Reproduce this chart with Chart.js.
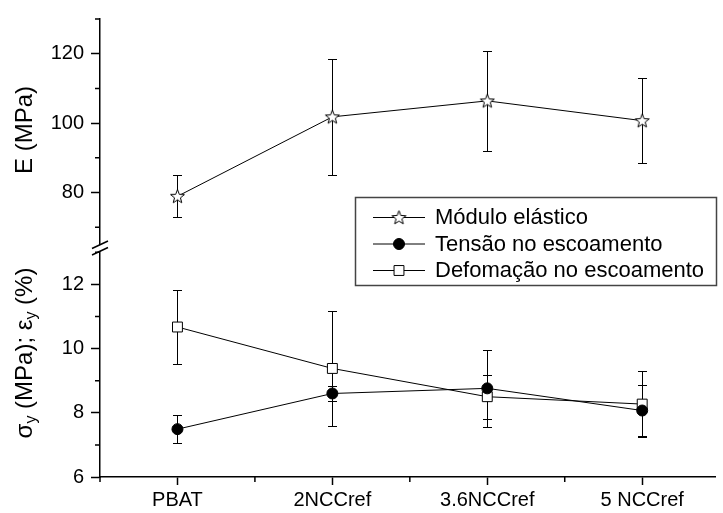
<!DOCTYPE html>
<html><head><meta charset="utf-8">
<script src="https://cdn.jsdelivr.net/npm/chart.js@4.4.0/dist/chart.umd.min.js"></script>
<style>html,body{margin:0;padding:0;background:#fff;overflow:hidden}
#wrap{position:relative;width:723px;height:513px}</style>
</head><body><div id="wrap"><canvas id="c" width="723" height="513"></canvas></div>
<script>
const categories = ['PBAT', '2NCCref', '3.6NCCref', '5 NCCref'];
const seriesNames = ['Módulo elástico', 'Tensão no escoamento', 'Defomação no escoamento'];
const moduloE = [78.9, 101.8, 106.4, 100.7];
const moduloErr = [6.1, 16.7, 14.3, 12.3];
const tensao = [7.49, 8.60, 8.76, 8.07];
const tensaoErr = [0.43, 0.24, 1.19, 0.78];
const deformacao = [10.67, 9.38, 8.50, 8.27];
const deformacaoErr = [1.16, 1.80, 0.69, 1.04];
const topMajorTicks = [80, 100, 120];
const topMinorTicks = [70, 90, 110, 130];
const botMajorTicks = [6, 8, 10, 12];
const botMinorTicks = [7, 9, 11, 13];

const FONT = 'Liberation Sans, Arial, Helvetica, sans-serif';

function makeStar() {
  const c = document.createElement('canvas'); c.width = 17; c.height = 17;
  const g = c.getContext('2d');
  g.beginPath();
  for (let i = 0; i < 10; i++) {
    const r = i % 2 ? 3.1 : 7.3;
    const a = -Math.PI / 2 + i * Math.PI / 5;
    const x = 8.5 + r * Math.cos(a), y = 9 + r * Math.sin(a);
    if (i) g.lineTo(x, y); else g.moveTo(x, y);
  }
  g.closePath(); g.fillStyle = '#fff'; g.fill();
  g.strokeStyle = '#000'; g.lineWidth = 1; g.stroke();
  return c;
}
const starImg = makeStar();
const toPts = arr => arr.map((v, i) => ({x: i, y: v}));

const errorBars = {
  id: 'errorBars',
  beforeDatasetsDraw(chart) {
    const ctx = chart.ctx; ctx.save();
    ctx.strokeStyle = '#000'; ctx.lineWidth = 1;
    chart.data.datasets.forEach((ds) => {
      const ys = chart.scales[ds.yAxisID], xs = chart.scales.x;
      ds.data.forEach((p, i) => {
        const x = Math.round(xs.getPixelForValue(p.x)) + 0.5;
        const y1 = Math.round(ys.getPixelForValue(p.y + ds.err[i])) + 0.5;
        const y2 = Math.round(ys.getPixelForValue(p.y - ds.err[i])) + 0.5;
        ctx.beginPath();
        ctx.moveTo(x, y1); ctx.lineTo(x, y2);
        ctx.moveTo(x - 4.5, y1); ctx.lineTo(x + 4.5, y1);
        ctx.moveTo(x - 4.5, y2); ctx.lineTo(x + 4.5, y2);
        ctx.stroke();
      });
    });
    ctx.restore();
  }
};

const decorations = {
  id: 'decorations',
  afterDraw(chart) {
    const ctx = chart.ctx, ca = chart.chartArea;
    const yT = chart.scales.yTop, yB = chart.scales.yBot, xs = chart.scales.x;
    ctx.save();
    ctx.strokeStyle = '#000'; ctx.lineWidth = 1.5;
    // minor ticks
    ctx.beginPath();
    topMinorTicks.forEach(v => { const y = yT.getPixelForValue(v); ctx.moveTo(ca.left - 5, y); ctx.lineTo(ca.left, y); });
    botMinorTicks.forEach(v => { const y = yB.getPixelForValue(v); ctx.moveTo(ca.left - 5, y); ctx.lineTo(ca.left, y); });
    for (let v = -0.5; v <= xs.max; v += 1) { const x = xs.getPixelForValue(v); ctx.moveTo(x, ca.bottom); ctx.lineTo(x, ca.bottom + 5); }
    ctx.stroke();
    // axis break
    const yb = yT.bottom;
    ctx.fillStyle = '#fff';
    ctx.fillRect(ca.left - 3, yb - 3, 6, 6);
    ctx.beginPath();
    ctx.moveTo(ca.left - 8, yb + 0.5); ctx.lineTo(ca.left + 8, yb - 7);
    ctx.moveTo(ca.left - 8, yb + 7); ctx.lineTo(ca.left + 8, yb - 0.5);
    ctx.stroke();
    // axis titles
    ctx.fillStyle = '#000';
    ctx.textBaseline = 'middle';
    ctx.save();
    ctx.translate(25, 130);
    ctx.rotate(-Math.PI / 2);
    ctx.font = '24px ' + FONT; ctx.textAlign = 'center';
    ctx.fillText('E (MPa)', 0, 0);
    ctx.restore();
    const parts = [['σ', 0], ['y', 1], [' (MPa); ', 0], ['ε', 0], ['y', 1], [' (%)', 0]];
    const mainF = '24px ' + FONT, subF = '16px ' + FONT;
    let total = 0;
    parts.forEach(p => { ctx.font = p[1] ? subF : mainF; total += ctx.measureText(p[0]).width; });
    ctx.save();
    ctx.translate(25, 353);
    ctx.rotate(-Math.PI / 2);
    ctx.textAlign = 'left';
    let px = -total / 2;
    parts.forEach(p => { ctx.font = p[1] ? subF : mainF; ctx.fillText(p[0], px, p[1] ? 7 : 0); px += ctx.measureText(p[0]).width; });
    ctx.restore();
    // legend
    const lx = 355, ly = 197, lw = 361, lh = 88;
    ctx.fillStyle = '#fff'; ctx.fillRect(lx, ly, lw, lh);
    ctx.strokeStyle = '#444'; ctx.lineWidth = 1.5;
    ctx.strokeRect(lx + 0.5, ly + 0.5, lw, lh);
    const rows = [217, 243.5, 270];
    chart.data.datasets.forEach((ds, i) => {
      const y = rows[i];
      ctx.strokeStyle = '#000'; ctx.lineWidth = 1;
      ctx.beginPath(); ctx.moveTo(373, y + 0.5); ctx.lineTo(425, y + 0.5); ctx.stroke();
      ctx.fillStyle = ds.pointBackgroundColor; ctx.strokeStyle = '#000';
      Chart.helpers.drawPoint(ctx, {pointStyle: ds.pointStyle, radius: ds.pointRadius, borderWidth: 1, rotation: 0}, 399, y + 0.5);
      ctx.fillStyle = '#000'; ctx.font = '22px ' + FONT; ctx.textAlign = 'left'; ctx.textBaseline = 'middle';
      ctx.fillText(ds.label, 435, y + 1);
    });
    ctx.restore();
  }
};

new Chart(document.getElementById('c'), {
  type: 'line',
  data: {
    datasets: [
      {label: seriesNames[0], data: toPts(moduloE), err: moduloErr, yAxisID: 'yTop',
       borderColor: '#000', borderWidth: 1, pointStyle: starImg, pointRadius: 7,
       pointBackgroundColor: '#fff', pointBorderColor: '#000', fill: false, tension: 0},
      {label: seriesNames[1], data: toPts(tensao), err: tensaoErr, yAxisID: 'yBot',
       borderColor: '#000', borderWidth: 1, pointStyle: 'circle', pointRadius: 5.5,
       pointBackgroundColor: '#000', pointBorderColor: '#000', pointBorderWidth: 1, fill: false, tension: 0},
      {label: seriesNames[2], data: toPts(deformacao), err: deformacaoErr, yAxisID: 'yBot',
       borderColor: '#000', borderWidth: 1, pointStyle: 'rect', pointRadius: 7,
       pointBackgroundColor: '#fff', pointBorderColor: '#000', pointBorderWidth: 1, fill: false, tension: 0}
    ]
  },
  options: {
    responsive: false, animation: false, devicePixelRatio: 1, events: [],
    layout: {padding: {top: 12, right: 0, bottom: 0, left: 0}},
    plugins: {legend: {display: false}, tooltip: {enabled: false}},
    scales: {
      x: {
        type: 'linear', min: -0.5, max: 3.47,
        afterFit: s => { s.height = 36; },
        border: {color: '#000', width: 1.5},
        grid: {drawOnChartArea: false, tickLength: 8, tickWidth: 1.5,
               tickColor: c => (Number.isInteger(c.tick.value) ? '#000' : 'rgba(0,0,0,0)')},
        ticks: {stepSize: 0.5, includeBounds: false, autoSkip: false, maxRotation: 0, padding: 3,
                color: '#000', font: {family: FONT, size: 20},
                callback: v => (Number.isInteger(v) && v >= 0 && v < categories.length ? categories[v] : '')}
      },
      yTop: {
        type: 'linear', position: 'left', stack: 'ys', stackWeight: 1, weight: 2,
        min: 64, max: 130,
        afterFit: s => { s.width = 100; },
        border: {color: '#000', width: 1.5},
        grid: {drawOnChartArea: false, tickLength: 9, tickWidth: 1.5,
               tickColor: c => (topMajorTicks.includes(c.tick.value) ? '#000' : 'rgba(0,0,0,0)')},
        ticks: {stepSize: 10, includeBounds: false, autoSkip: false, padding: 7,
                color: '#000', font: {family: FONT, size: 20},
                callback: v => (topMajorTicks.includes(v) ? String(v) : '')}
      },
      yBot: {
        type: 'linear', position: 'left', stack: 'ys', stackWeight: 1, weight: 1,
        min: 6, max: 13.13,
        afterFit: s => { s.width = 100; },
        border: {color: '#000', width: 1.5},
        grid: {drawOnChartArea: false, tickLength: 9, tickWidth: 1.5,
               tickColor: c => (botMajorTicks.includes(c.tick.value) ? '#000' : 'rgba(0,0,0,0)')},
        ticks: {stepSize: 1, includeBounds: false, autoSkip: false, padding: 7,
                color: '#000', font: {family: FONT, size: 20},
                callback: v => (botMajorTicks.includes(v) ? String(v) : '')}
      }
    }
  },
  plugins: [errorBars, decorations]
});
</script>
</body></html>
